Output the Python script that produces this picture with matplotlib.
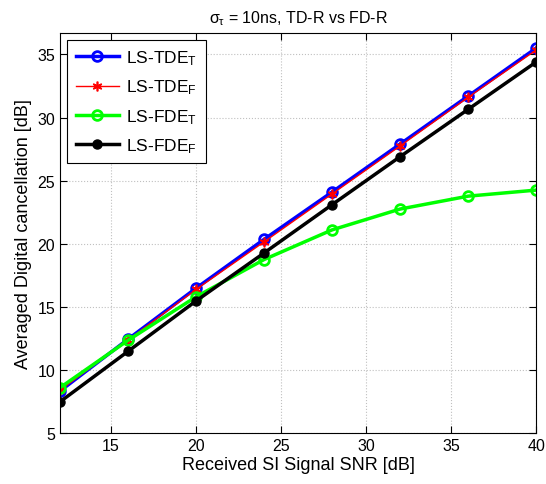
import matplotlib

matplotlib.use("Agg")
import matplotlib.pyplot as plt  # noqa: E402

plt.rcParams["font.family"] = ["Liberation Sans", "DejaVu Sans"]
plt.rcParams["mathtext.fontset"] = "custom"
plt.rcParams["mathtext.rm"] = "Liberation Sans"
plt.rcParams["mathtext.it"] = "Liberation Sans"

snr = [12, 16, 20, 24, 28, 32, 36, 40]
ls_tde_t = [8.33, 12.44, 16.48, 20.35, 24.1, 27.9, 31.7, 35.5]
ls_tde_f = [8.4, 12.38, 16.38, 20.15, 23.95, 27.75, 31.6, 35.35]
ls_fde_t = [8.6, 12.35, 15.8, 18.75, 21.1, 22.75, 23.77, 24.25]
ls_fde_f = [7.48, 11.48, 15.47, 19.27, 23.1, 26.9, 30.65, 34.4]

labels = [
    r"LS-TDE$_\mathregular{T}$",
    r"LS-TDE$_\mathregular{F}$",
    r"LS-FDE$_\mathregular{T}$",
    r"LS-FDE$_\mathregular{F}$",
]

fig = plt.figure(figsize=(5.46, 4.85), dpi=100)
ax = fig.add_axes([0.110, 0.105, 0.872, 0.825])

ax.plot(snr, ls_tde_t, color="#0000ff", lw=2.5, marker="o", ms=7,
        mfc="none", mew=2, label=labels[0])
ax.plot(snr, ls_tde_f, color="#ff0000", lw=1.0, marker=(6, 2, 0), ms=7,
        mew=1.2, label=labels[1])
ax.plot(snr, ls_fde_t, color="#00ff00", lw=2.5, marker="o", ms=7,
        mfc="none", mew=2, label=labels[2])
ax.plot(snr, ls_fde_f, color="#000000", lw=2.5, marker="o", ms=6.5,
        label=labels[3])

ax.set_xlim(12, 40)
ax.set_ylim(5, 36.7)
ax.set_xticks([15, 20, 25, 30, 35, 40])
ax.set_yticks([5, 10, 15, 20, 25, 30, 35])
ax.grid(True, linestyle=":", color="#c0c0c0", lw=0.8)
ax.tick_params(direction="in", top=True, right=True, labelsize=11.5, length=5)
for s in ax.spines.values():
    s.set_linewidth(0.8)

ax.set_xlabel("Received SI Signal SNR [dB]", fontsize=13, labelpad=2)
ax.set_ylabel("Averaged Digital cancellation [dB]", fontsize=13, labelpad=4)
ax.set_title(r"$\sigma_\tau$ = 10ns, TD-R vs FD-R", fontsize=11.5, pad=8)

leg = ax.legend(loc="upper left", fontsize=12.5, fancybox=False, framealpha=1,
                edgecolor="#000000", borderaxespad=0.4, handlelength=2.5,
                handletextpad=0.4, labelspacing=0.6, borderpad=0.5)
leg.get_frame().set_linewidth(0.8)

fig.savefig("out.png", dpi=100)
